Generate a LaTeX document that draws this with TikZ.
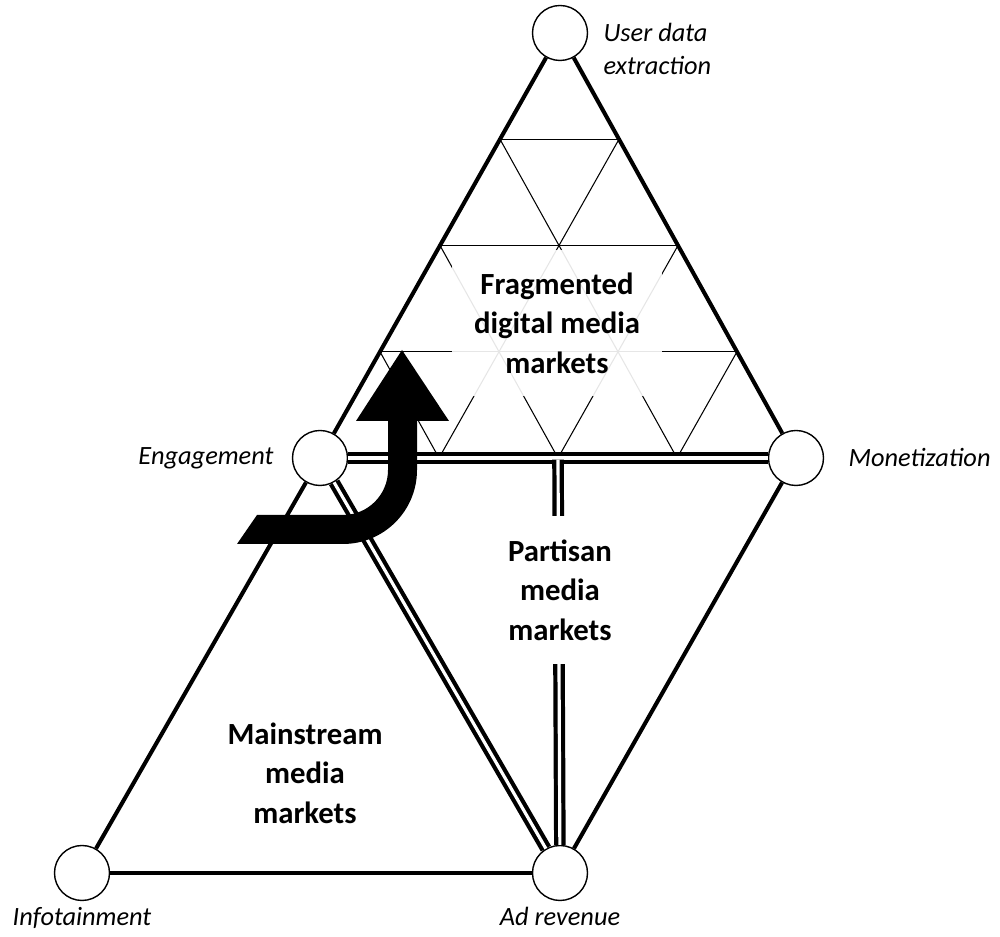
\documentclass[tikz,border=0pt]{standalone}
\usepackage{fontspec}
\setmainfont{Carlito}
\usetikzlibrary{positioning,calc}

\begin{document}
\begin{tikzpicture}[
    vertex/.style={circle, draw, line width=0.8pt, fill=white, minimum size=1.1cm, inner sep=0pt},
    edge/.style={line width=2.3pt},
    dbl/.style={double, double distance=1.8pt, line width=2.4pt},
    grid/.style={line width=0.6pt},
    lbl/.style={font=\fontsize{15}{19}\selectfont\itshape, align=left, inner sep=0pt},
    market/.style={font=\fontsize{17.5}{22.5}\selectfont\bfseries, align=center}
]
    \useasboundingbox (0,0) rectangle (20,18.74);
    % Vertici
    \node[vertex] (U) at (11.2,18.08) {};
    \node[vertex] (E) at (6.4,9.58) {};
    \node[vertex] (M) at (15.92,9.58) {};
    \node[vertex] (I) at (1.64,1.28) {};
    \node[vertex] (A) at (11.2,1.28) {};
    % Griglia del triangolo superiore
    \foreach \l in {1,...,4} {
        \coordinate (L\l a) at ($(U)!\l/4!(E)$);
        \coordinate (L\l b) at ($(U)!\l/4!(M)$);
    }
    \foreach \l in {1,2,3} \draw[grid] (L\l a) -- (L\l b);
    \foreach \k in {2,3,4} {
        \pgfmathtruncatemacro\rowtop{\k-1}
        \pgfmathtruncatemacro\rowlast{\k-2}
        \foreach \j in {0,...,\rowlast} {
            \pgfmathtruncatemacro\nxt{\j+1}
            \draw[grid] ($(L\rowtop a)!\j/\rowtop!(L\rowtop b)$) -- ($(L\k a)!\nxt/\k!(L\k b)$)
                -- ($(L\rowtop a)!\nxt/\rowtop!(L\rowtop b)$);
        }
    }
    % Lati
    \draw[edge] (U) -- (E);
    \draw[edge] (U) -- (M);
    \draw[edge] (E) -- (I);
    \draw[edge] (I) -- (A);
    \draw[edge] (M) -- (A);
    \draw[dbl] (E) -- (M); % doppia linea
    \draw[dbl] (E) -- (A);
    \coordinate (Mid) at ($(E)!0.5!(M)+(0,-0.9pt)$);
    \draw[dbl] (Mid) -- (A);
    % Mercati
    \node[market, fill=white, fill opacity=0.9, text opacity=1, inner xsep=0.45cm, inner ysep=0.45cm] (frag) at (11.14,12.28) {Fragmented\\digital media\\markets};
    \node[market, fill=white, inner xsep=0.3cm, inner ysep=0.48cm] (part) at (11.2,6.94) {Partisan\\media\\markets};
    \node[market] (main) at (6.1,3.28) {Mainstream\\media\\markets};
    % Freccia
    \fill (4.74,7.86) -- (6.86,7.86) arc[start angle=-90, end angle=0, radius=1.48]
        -- (8.34,10.32) -- (8.98,10.32) -- (8.04,11.74) -- (7.12,10.32) -- (7.76,10.32)
        -- (7.76,9.34) arc[start angle=0, end angle=-90, radius=0.9]
        -- (5.14,8.44) -- cycle;
    % Etichette
    \node[lbl, right=0.3cm of U, yshift=-0.32cm] (lU) {User data\\extraction};
    \node[lbl, left=0.36cm of E] (lE) {Engagement};
    \node[lbl, right=0.48cm of M] (lM) {Monetization};
    \node[lbl, below=0.12cm of I] (lI) {Infotainment};
    \node[lbl, below=0.12cm of A] (lA) {Ad revenue};
\end{tikzpicture}
\end{document}
